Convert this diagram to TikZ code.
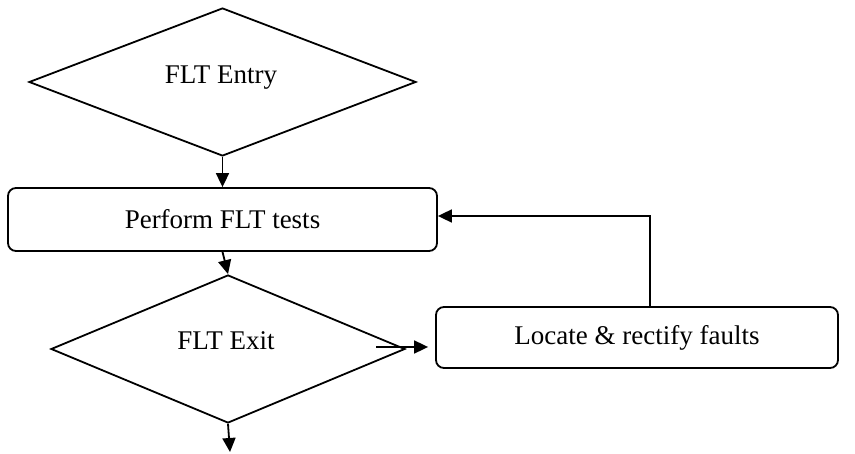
\documentclass[tikz,border=0pt]{standalone}
\usepackage{fontspec}
\setmainfont{Liberation Serif}
\usetikzlibrary{shapes.geometric,arrows.meta}
\begin{document}
\begin{tikzpicture}[x=1pt,y=-1pt,line width=1.8pt,
  decision/.style={draw, diamond, inner sep=0pt, minimum width=#1, minimum height=148pt},
  process/.style n args={2}{draw, rectangle, rounded corners=8pt, inner sep=0pt,
    minimum width=#1, minimum height=#2, font=\fontsize{27}{31}\selectfont},
  caption/.style={inner sep=0pt, font=\fontsize{27}{31}\selectfont},
  flow/.style={-{Triangle[length=14pt,width=13pt]}}]
  \useasboundingbox (0,0) rectangle (855,454);

  % shapes
  \node[decision=387pt] (entry) at (222.5,82) {};
  \node[caption] (entrytext) at (221,78) {FLT Entry};
  \node[process={429pt}{63pt}] (perform) at (222.5,219.5) {Perform FLT tests};
  \node[decision=354pt] (exit) at (228,349) {};
  \node[caption] (exittext) at (226,341) {FLT Exit};
  \node[process={402pt}{61pt}] (locate) at (637,337.5) {Locate \& rectify faults};

  % free ends of connectors
  \coordinate (exitout) at (376,347);
  \coordinate (finish) at (230,452);
  \coordinate (loopup) at (650,216);

  % connectors
  \draw[flow] (entry.south) -- (perform.north);
  \draw[flow] (perform.south) -- (exit.north);
  \draw[flow] (exit.south) -- (finish);
  \draw[flow, shorten >=7pt] (exitout) -- (exitout -| locate.west);
  \draw[flow] (loopup |- locate.north) -- (loopup) -- (loopup -| perform.east);
\end{tikzpicture}
\end{document}
